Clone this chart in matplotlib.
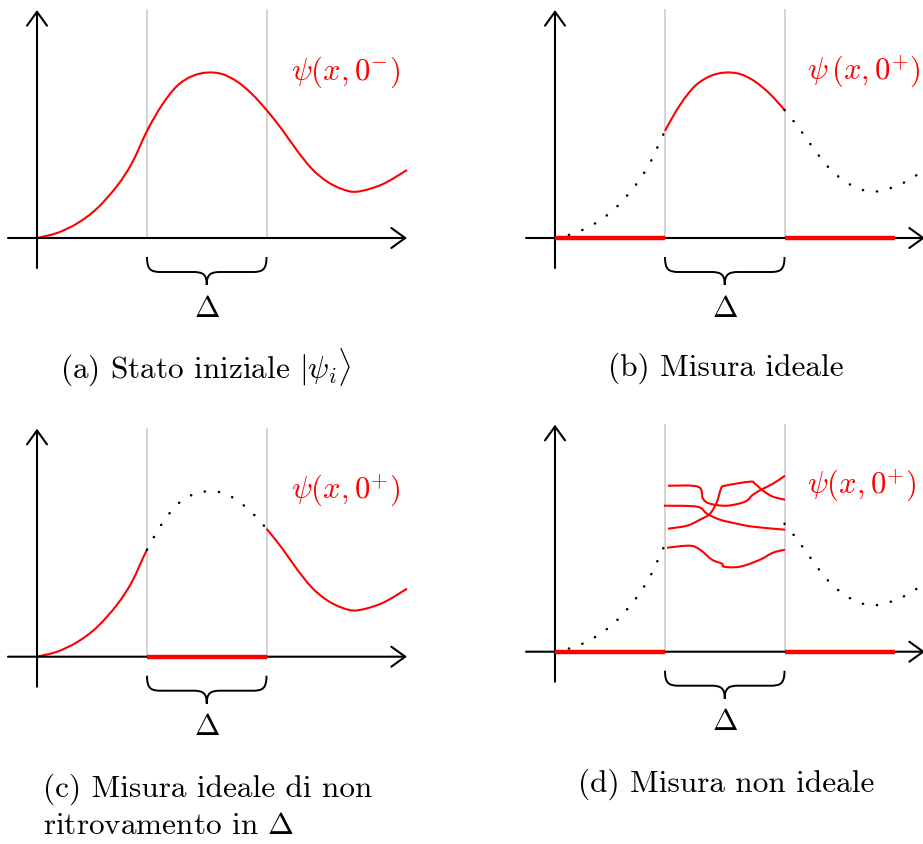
import numpy as np
import matplotlib
matplotlib.use("Agg")
import matplotlib.pyplot as plt
from matplotlib.patches import FancyArrowPatch, PathPatch
from matplotlib.path import Path

plt.rcParams['mathtext.fontset'] = 'cm'
plt.rcParams['font.family'] = 'cmr10'
plt.rcParams['axes.formatter.use_mathtext'] = True

# ---------------- data (pixel-like units, origin at axes crossing) -------------
curve_x = [0, 20, 40, 60, 80, 95, 110, 125, 140, 155, 170, 185, 200, 215,
           229.5, 245, 260, 275, 290, 305, 320, 345, 370]
curve_y = [0, 5, 14.5, 29.5, 52, 75, 107, 133, 152, 161.8, 165.4, 164, 156.5,
           144, 128, 108.5, 87.5, 69, 56.5, 49, 46.3, 53.5, 68]
delta_lo, delta_hi = 110, 229.5
right_end = 340

noisy_a_x = [113, 143, 148, 155, 172, 190, 198, 208, 218, 230]
noisy_a_y = [166, 165, 153, 148, 146, 150, 157, 163, 168, 176]
noisy_b_x = [113, 132, 145, 155, 162, 166, 170, 195, 200, 208, 218, 230]
noisy_b_y = [123, 126, 132, 138, 150, 163, 166, 170, 168, 161, 155, 152]
noisy_c_x = [109, 142, 152, 165, 182, 198, 230]
noisy_c_y = [146, 145, 138, 132, 128, 125, 122]
noisy_d_x = [112, 135, 145, 157, 167, 169, 185, 205, 218, 230]
noisy_d_y = [104, 106, 102, 92, 88, 85, 85, 92, 99, 102]

labels = [r'$\psi(x,0^{-})$', r'$\psi\,(x,0^{+})$', r'$\psi(x,0^{+})$', r'$\psi(x,0^{+})$']

W, H = 923, 844
fig = plt.figure(figsize=(W / 100, H / 100), dpi=100)

RED = '#ff0000'
GREY = '#d3d3d3'


def smooth_path(xs, ys, lo=-np.inf, hi=np.inf):
    """Catmull-Rom spline through the given points, drawn as cubic Beziers."""
    p = np.column_stack([xs, ys]).astype(float)
    n = len(p)
    verts, codes = [], []
    for i in range(n - 1):
        if p[i, 0] < lo - 1e-9 or p[i + 1, 0] > hi + 1e-9:
            continue
        pm = p[max(i - 1, 0)]
        pp = p[min(i + 2, n - 1)]
        c1 = p[i] + (p[i + 1] - pm) / 6
        c2 = p[i + 1] - (pp - p[i]) / 6
        if not verts or not np.allclose(verts[-1], p[i]):
            verts.append(tuple(p[i])); codes.append(Path.MOVETO)
        verts += [tuple(c1), tuple(c2), tuple(p[i + 1])]
        codes += [Path.CURVE4] * 3
    return Path(verts, codes)


def draw(ax, path, **kw):
    ax.add_patch(PathPatch(path, fill=False, **kw))


def make_ax(left, top, w, h, ox, oy):
    ax = fig.add_axes([left / W, 1 - (top + h) / H, w / W, h / H])
    ax.set_xlim(left - ox, left + w - ox)
    ax.set_ylim(oy - (top + h), oy - top)
    ax.axis('off')
    return ax


def frame(ax, label, ytop=228, lx=254):
    for x in (delta_lo, delta_hi):
        ax.plot([x, x], [0, ytop], color=GREY, lw=1.4, zorder=1)
    kw = dict(arrowstyle='->,head_length=0.5,head_width=0.36', mutation_scale=20,
              lw=1.5, color='black', shrinkA=0, shrinkB=0, zorder=3)
    ax.add_patch(FancyArrowPatch((-29, 0), (370, 0), **kw))
    ax.add_patch(FancyArrowPatch((0, -30), (0, ytop), **kw))
    # brace
    x0, x1 = delta_lo, delta_hi
    xm = (x0 + x1) / 2
    yt, yb, ytip = -19, -34, -47
    verts = [(x0, yt), (x0, yb + 2), (x0 + 4, yb), (x0 + 14, yb),
             (xm - 14, yb),
             (xm - 4, yb), (xm, yb - 2), (xm, ytip),
             (xm, yb - 2), (xm + 4, yb), (xm + 14, yb),
             (x1 - 14, yb),
             (x1 - 4, yb), (x1, yb + 2), (x1, yt)]
    codes = [Path.MOVETO, Path.CURVE4, Path.CURVE4, Path.CURVE4,
             Path.LINETO,
             Path.CURVE4, Path.CURVE4, Path.CURVE4,
             Path.CURVE4, Path.CURVE4, Path.CURVE4,
             Path.LINETO,
             Path.CURVE4, Path.CURVE4, Path.CURVE4]
    ax.add_patch(PathPatch(Path(verts, codes), fill=False, lw=1.4, color='black'))
    ax.text(xm, -71, r'$\Delta$', ha='center', va='center', fontsize=22)
    ax.text(lx, 166, label, ha='left', va='center', fontsize=22, color=RED)


dotted = dict(color='black', lw=1.8, linestyle=(0, (0.1, 5.6)),
              capstyle='round', zorder=2)
solid = dict(color=RED, lw=1.5, zorder=2)
thick = dict(color=RED, lw=3.2, solid_capstyle='butt', zorder=4)

# (a)
ax = make_ax(0, 0, 461, 420, 37, 238)
frame(ax, labels[0])
draw(ax, smooth_path(curve_x, curve_y), **solid)

# (b)
ax = make_ax(461, 0, 462, 420, 555, 238)
frame(ax, labels[1], lx=252)
draw(ax, smooth_path(curve_x, curve_y, 0, delta_lo), **dotted)
draw(ax, smooth_path(curve_x, curve_y, delta_lo, delta_hi), **solid)
draw(ax, smooth_path(curve_x, curve_y, delta_hi, 370), **dotted)
ax.plot([0, delta_lo], [0, 0], **thick)
ax.plot([delta_hi, right_end], [0, 0], **thick)

# (c)
ax = make_ax(0, 420, 461, 424, 37, 656.7)
frame(ax, labels[2])
draw(ax, smooth_path(curve_x, curve_y, 0, delta_lo), **solid)
draw(ax, smooth_path(curve_x, curve_y, delta_lo, delta_hi), **dotted)
draw(ax, smooth_path(curve_x, curve_y, delta_hi, 370), **solid)
ax.plot([delta_lo, delta_hi], [0, 0], **thick)

# (d)
ax = make_ax(461, 420, 462, 424, 555, 651.7)
frame(ax, labels[3], ytop=227, lx=252)
draw(ax, smooth_path(curve_x, curve_y, 0, delta_lo), **dotted)
draw(ax, smooth_path(curve_x, curve_y, delta_hi, 370), **dotted)
for xs, ys in [(noisy_a_x, noisy_a_y), (noisy_b_x, noisy_b_y),
               (noisy_c_x, noisy_c_y), (noisy_d_x, noisy_d_y)]:
    draw(ax, smooth_path(xs, ys), **solid)
ax.plot([0, delta_lo], [0, 0], **thick)
ax.plot([delta_hi, right_end], [0, 0], **thick)

# captions
cap = dict(fontsize=22.5, va='center')
fig.text(206 / W, 1 - 367 / H, r'(a) Stato iniziale $|\psi_i\rangle$', ha='center', **cap)
fig.text(726 / W, 1 - 368 / H, '(b) Misura ideale', ha='center', **cap)
fig.text(43 / W, 1 - 789 / H, '(c) Misura ideale di non', ha='left', **cap)
fig.text(43 / W, 1 - 826 / H, r'ritrovamento in $\Delta$', ha='left', **cap)
fig.text(726 / W, 1 - 784 / H, '(d) Misura non ideale', ha='center', **cap)

fig.savefig('out.png', dpi=100)
